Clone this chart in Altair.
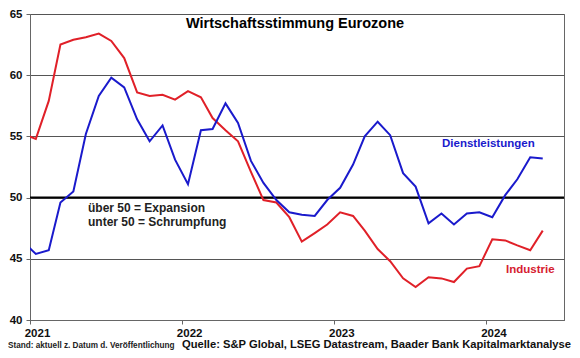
import altair as alt
import pandas as pd

months = [f"{y}-{m:02d}-15" for y in range(2020, 2025) for m in range(1, 13)]
months = [d for d in months if "2020-12-15" <= d <= "2024-05-15"]

industrie = [55.2, 54.8, 57.9, 62.5, 62.9, 63.1, 63.4, 62.8, 61.4, 58.6, 58.3, 58.4, 58.0,
             58.7, 58.2, 56.5, 55.5, 54.6, 52.1, 49.8, 49.6, 48.4, 46.4, 47.1, 47.8,
             48.8, 48.5, 47.3, 45.8, 44.8, 43.4, 42.7, 43.5, 43.4, 43.1, 44.2, 44.4,
             46.6, 46.5, 46.1, 45.7, 47.3]
dienst = [46.4, 45.4, 45.7, 49.6, 50.5, 55.2, 58.3, 59.8, 59.0, 56.4, 54.6, 55.9, 53.1,
          51.1, 55.5, 55.6, 57.7, 56.1, 53.0, 51.2, 49.8, 48.8, 48.6, 48.5, 49.8,
          50.8, 52.7, 55.0, 56.2, 55.1, 52.0, 50.9, 47.9, 48.7, 47.8, 48.7, 48.8,
          48.4, 50.2, 51.5, 53.3, 53.2]
year_ticks = ["2021-01-01", "2022-01-01", "2023-01-01", "2024-01-01"]

df = pd.DataFrame({
    "date": months * 2,
    "value": industrie + dienst,
    "series": ["Industrie"] * len(industrie) + ["Dienstleistungen"] * len(dienst),
})

W, H = 534, 306
FONT = "Liberation Sans"

x = alt.X("date:T", scale=alt.Scale(domain=["2021-01-01", "2024-07-05"]),
          axis=alt.Axis(values=year_ticks, format="%Y", title=None, grid=False,
                        labelFont=FONT, labelFontSize=11.5, labelFontWeight="bold",
                        labelColor="#111", tickSize=4, tickColor="#666",
                        domainColor="#666", labelPadding=3, labelOffset=7,
                        labelFlush=False))
y = alt.Y("value:Q", scale=alt.Scale(domain=[40, 65], nice=False),
          axis=alt.Axis(values=[40, 45, 50, 55, 60, 65], title=None, grid=True,
                        gridColor="#555", gridWidth=1, labelFont=FONT,
                        labelFontSize=11.5, labelFontWeight="bold", labelColor="#111",
                        tickSize=4, tickColor="#666", domainColor="#666",
                        labelPadding=4))

lines = alt.Chart(df).mark_line(strokeWidth=2, clip=True).encode(
    x=x, y=y,
    color=alt.Color("series:N",
                    scale=alt.Scale(domain=["Industrie", "Dienstleistungen"],
                                    range=["#e02028", "#1a1acc"]),
                    legend=None),
)

rule50 = alt.Chart(pd.DataFrame({"v": [50]})).mark_rule(color="#000", strokeWidth=2).encode(
    y=alt.Y("v:Q", scale=alt.Scale(domain=[40, 65], nice=False))
)

def txt(t, px, py, size, color, align="left", weight="bold", baseline="middle"):
    return alt.Chart(pd.DataFrame({"t": [t]})).mark_text(
        font=FONT, fontSize=size, fontWeight=weight, color=color,
        align=align, baseline=baseline).encode(
        text="t:N", x=alt.value(px), y=alt.value(py))

texts = [
    txt("Wirtschaftsstimmung Eurozone", 265, 10, 14.5, "#000", "center"),
    txt("Dienstleistungen", 412, 130, 11.5, "#1a1acc"),
    txt("Industrie", 476, 256, 11.5, "#d62030"),
    txt("über 50 = Expansion", 58, 194, 12, "#222"),
    txt("unter 50 = Schrumpfung", 58, 208, 12, "#222"),
    txt("Stand: aktuell z. Datum d. Veröffentlichung", -22, 334, 8.2, "#222",
        baseline="alphabetic"),
    txt("Quelle: S&P Global, LSEG Datastream, Baader Bank Kapitalmarktanalyse", 152, 334, 11.2, "#111",
        baseline="alphabetic"),
]

chart = alt.layer(rule50, lines, *texts).properties(
    width=W, height=H,
    autosize=alt.AutoSizeParams(type="none"),
    padding={"left": 22, "top": 6, "right": 8, "bottom": 30},
    background="white",
).configure_view(stroke="#666", strokeWidth=1)

chart.save("out.html", embed_options={"renderer": "svg", "actions": False})
